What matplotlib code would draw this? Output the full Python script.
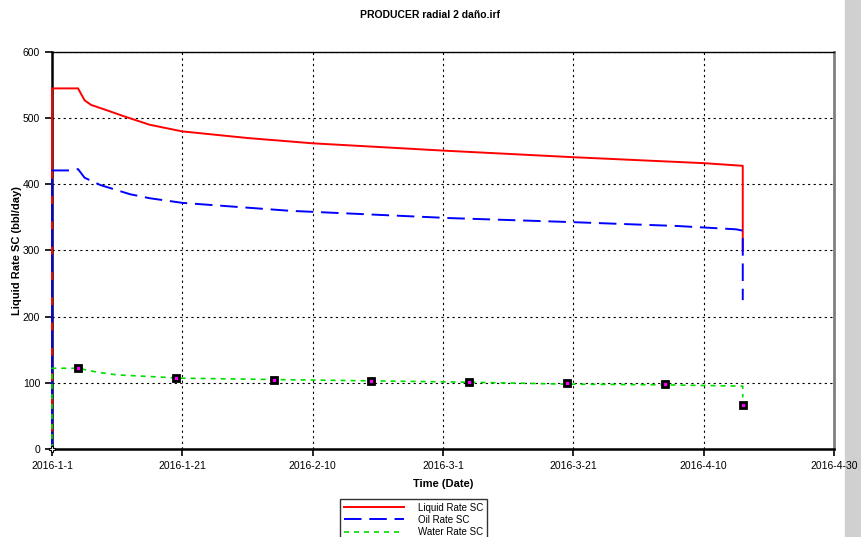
import matplotlib
matplotlib.use('Agg')
import matplotlib.pyplot as plt
import numpy as np

plt.rcParams['font.family'] = ['Liberation Sans', 'DejaVu Sans']

start = np.datetime64('2016-01-01')

# days since 2016-1-1 and rates (bbl/day)
liq_days = [0, 0, 4, 5, 6, 8.4, 11, 15, 20, 30, 40, 60, 80, 100, 106, 106]
liq_rate = [0, 545, 545, 527, 520, 512, 503, 490, 480, 470, 462, 451, 441, 432, 428, 300]

oil_days = [0, 0, 3, 4, 5, 7.4, 12, 15, 20, 36.5, 61, 79.5, 96, 105, 106, 106]
oil_rate = [0, 421, 421, 423, 410, 399, 385, 379, 372, 360, 349, 343, 337, 332, 330, 225]

wat_days = [0, 0, 4, 7, 10, 20, 34, 49, 64, 79, 94, 106, 106]
wat_rate = [0, 122, 122, 116, 112, 107, 105, 103, 101, 98, 97, 95, 78]

obs_days = [4, 19, 34, 49, 64, 79, 94, 106]
obs_rate = [122, 107, 104, 103, 101, 100, 98, 66]

tick_days = [0, 20, 40, 60, 80, 100, 120]
tick_labels = ['2016-1-1', '2016-1-21', '2016-2-10', '2016-3-1', '2016-3-21', '2016-4-10', '2016-4-30']


def to_dates(d):
    return start + (np.array(d) * 24 * 60).astype('timedelta64[m]')


fig = plt.figure(figsize=(8.61, 5.37), dpi=100)
# gray strip on right edge
fig.patches.append(plt.Rectangle((845/861, 0), 16/861, 1, transform=fig.transFigure,
                                 color='#d0d0d0', zorder=0))

ax = fig.add_axes([52/861, 1-449/537, (834-52)/861, (449-52)/537])
ax.set_zorder(2)

ax.plot(to_dates(liq_days), liq_rate, color='#ff0000', lw=1.4, label='Liquid Rate SC',
        zorder=3, clip_on=False)
ax.plot(to_dates(oil_days), oil_rate, color='#0000ff', lw=1.4, dashes=(9, 4),
        label='Oil Rate SC', zorder=3, clip_on=False)
ax.plot(to_dates(wat_days), wat_rate, color='#00dd00', lw=1.2, dashes=(3, 3),
        label='Water Rate SC', zorder=3, clip_on=False)
ax.plot(to_dates(obs_days), obs_rate, ls='none', marker='s', ms=5, mfc='#ff00ff',
        mec='black', mew=2, zorder=4)
ax.plot(to_dates([0]), [0], ls='none', marker='P', ms=5, mfc='white', mec='black',
        mew=0.8, clip_on=False, zorder=5)

ax.set_xlim(to_dates([0])[0], to_dates([120])[0])
ax.set_ylim(0, 600)
ax.set_xticks(to_dates(tick_days))
ax.set_xticklabels(tick_labels)
ax.set_yticks(range(0, 601, 100))
ax.tick_params(labelsize=7.5, length=5, width=1.2)
ax.grid(True, color='black', ls=(0, (2, 3)), lw=0.8)

for s in ['left', 'bottom']:
    ax.spines[s].set_linewidth(1.8)
ax.spines['top'].set_linewidth(1.0)
ax.spines['right'].set_color('#808080')
ax.spines['right'].set_linewidth(2)

ax.set_xlabel('Time (Date)', fontsize=8, fontweight='bold', labelpad=6)
ax.set_ylabel('Liquid Rate SC (bbl/day)', fontsize=8, fontweight='bold')
ax.yaxis.set_label_coords(-30/782, 0.5)
fig.text(0.5, 1-15/537, 'PRODUCER radial 2 daño.irf', fontsize=7.5, fontweight='bold',
         ha='center', va='center')

leg = fig.legend(loc='upper left', bbox_to_anchor=(335/861, 1-494/537), fontsize=7,
                 handlelength=6.2, handletextpad=1.4, labelspacing=0.22, borderpad=0.4,
                 frameon=True, fancybox=False, edgecolor='black')
leg.get_frame().set_linewidth(1.0)
leg.set_zorder(5)

fig.savefig('out.png', dpi=100)
